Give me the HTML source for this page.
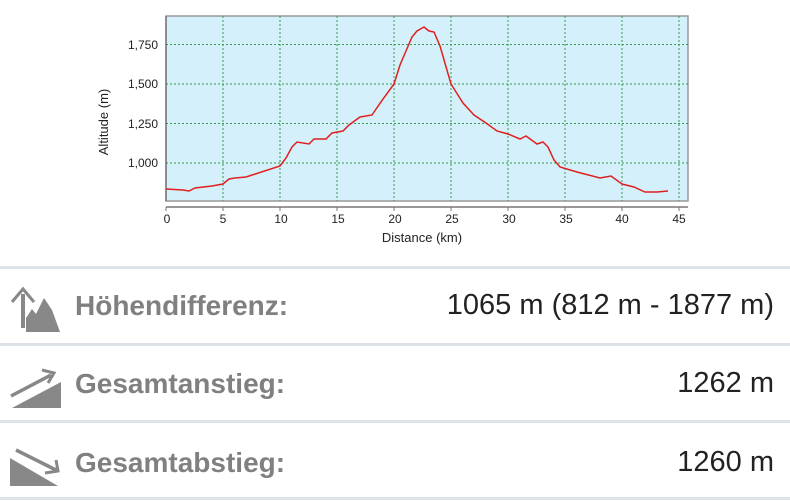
<!DOCTYPE html>
<html><head><meta charset="utf-8"><style>
body{margin:0;width:790px;height:502px;background:#fff;overflow:hidden;font-family:"Liberation Sans",sans-serif;position:relative}
.line{position:absolute;left:0;width:790px;height:3px;background:#dde3e8}
.lab{position:absolute;left:75px;font-weight:bold;color:#808080;font-size:28px}
.val{position:absolute;right:16px;color:#222;font-size:29px}
</style></head><body>
<svg width="790" height="260" style="position:absolute;left:0;top:0" font-family="Liberation Sans, sans-serif">
<rect x="166" y="16" width="522" height="185" fill="#d4f0fa" stroke="#999" stroke-width="1.5"/>
<g stroke="#3a9a4a" stroke-dasharray="2,2" stroke-width="1">
<line x1="166" y1="44.5" x2="688" y2="44.5"/><line x1="166" y1="84" x2="688" y2="84"/><line x1="166" y1="123.5" x2="688" y2="123.5"/><line x1="166" y1="163" x2="688" y2="163"/>
<line x1="223" y1="16" x2="223" y2="201"/><line x1="280" y1="16" x2="280" y2="201"/><line x1="337" y1="16" x2="337" y2="201"/><line x1="394" y1="16" x2="394" y2="201"/><line x1="451" y1="16" x2="451" y2="201"/><line x1="508" y1="16" x2="508" y2="201"/><line x1="565" y1="16" x2="565" y2="201"/><line x1="622" y1="16" x2="622" y2="201"/><line x1="679" y1="16" x2="679" y2="201"/>
</g>
<line x1="166" y1="16" x2="166" y2="201" stroke="#555" stroke-width="1"/>
<line x1="166" y1="207" x2="688" y2="207" stroke="#777" stroke-width="1.5"/>
<g stroke="#777"><line x1="166" y1="207" x2="166" y2="211"/><line x1="223" y1="207" x2="223" y2="211"/><line x1="280" y1="207" x2="280" y2="211"/><line x1="337" y1="207" x2="337" y2="211"/><line x1="394" y1="207" x2="394" y2="211"/><line x1="451" y1="207" x2="451" y2="211"/><line x1="508" y1="207" x2="508" y2="211"/><line x1="565" y1="207" x2="565" y2="211"/><line x1="622" y1="207" x2="622" y2="211"/><line x1="679" y1="207" x2="679" y2="211"/></g>
<g font-size="12" fill="#222" text-anchor="middle">
<text x="167" y="223">0</text><text x="223" y="223">5</text><text x="281" y="223">10</text><text x="338" y="223">15</text><text x="395" y="223">20</text><text x="452" y="223">25</text><text x="509" y="223">30</text><text x="566" y="223">35</text><text x="622" y="223">40</text><text x="679" y="223">45</text>
</g>
<g font-size="12" fill="#222" text-anchor="end">
<text x="158" y="49">1,750</text><text x="158" y="88">1,500</text><text x="158" y="128">1,250</text><text x="158" y="167">1,000</text>
</g>
<text x="422" y="242" font-size="13" fill="#222" text-anchor="middle">Distance (km)</text>
<text transform="translate(108,122) rotate(-90)" font-size="13" fill="#222" text-anchor="middle">Altitude (m)</text>
<polyline fill="none" stroke="#e02020" stroke-width="1.5" points="166,189 183,190 189,191 195,188 212,186 223,184 229,179 235,178 246,177 280,166 286,158 292,147 297,142 309,144 314,139 326,139 332,133 343,131 349,125 360,117 372,115 383,99 394,84 400,65 412,37 417,31 424,27 429,31 434,32 440,46 451,84 463,103 474,115 486,123 497,131 508,134 520,139 526,136 537,144 543,142 548,147 554,160 560,167 577,172 600,178 611,176 622,184 634,187 645,192 657,192 668,191"/>
</svg>
<div class="line" style="top:266px"></div>
<div class="line" style="top:343px"></div>
<div class="line" style="top:420px"></div>
<div class="line" style="top:497px"></div>
<svg width="70" height="240" style="position:absolute;left:0;top:262px">
<g fill="#888" stroke="#888">
<line x1="23" y1="66" x2="23" y2="32" stroke-width="4"/>
<path d="M12 40 L23 27 L34 40" fill="none" stroke-width="3"/>
<path d="M26 70 L26 56 L32 47 L36 52 L44 36 L52 48 L60 70 Z" stroke="none"/>
<path d="M12 146 L61 146 L61 120 Z" stroke="none"/>
<line x1="11" y1="134" x2="51" y2="113" stroke-width="3.5"/>
<path d="M42 108 L54 111 L48 121" fill="none" stroke-width="3"/>
<path d="M10 196 L10 224 L58 224 Z" stroke="none"/>
<line x1="16" y1="188" x2="56" y2="208" stroke-width="3.5"/>
<path d="M45 211 L58 209 L56 198" fill="none" stroke-width="3"/>
</g>
</svg>
<div class="lab" style="top:290px">Höhendifferenz:</div>
<div class="val" style="top:289px">1065 m (812 m - 1877 m)</div>
<div class="lab" style="top:368px">Gesamtanstieg:</div>
<div class="val" style="top:367px">1262 m</div>
<div class="lab" style="top:447px">Gesamtabstieg:</div>
<div class="val" style="top:446px">1260 m</div>
</body></html>
